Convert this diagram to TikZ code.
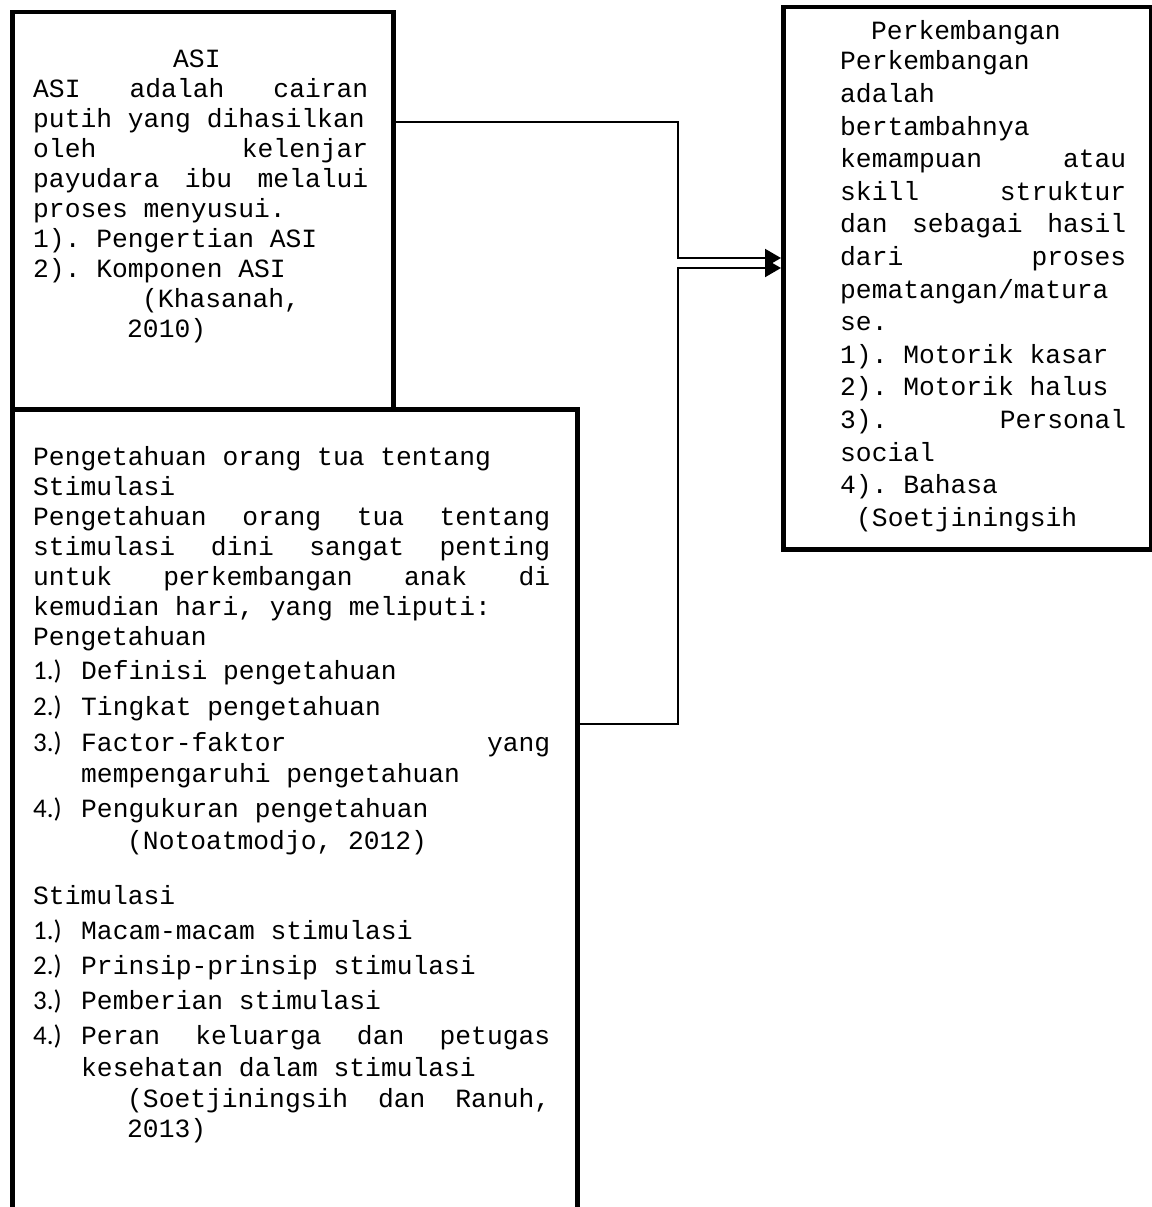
\documentclass[tikz,border=0pt]{standalone}
\usepackage{fontspec}
\newfontfamily\monof{Liberation Mono}
\newfontfamily\numf{Carlito}
\usetikzlibrary{arrows.meta,positioning}

% mono text with full-width word spaces
\newcommand{\monotext}[1]{\monof\fontsize{26.3}{#1}\selectfont\spaceskip=0.6em\xspaceskip=0.6em\relax}
% one line stretched to the full width
\newcommand{\jl}[1]{\leavevmode\hbox to\hsize{#1}}
% list number in the sans font
\newcommand{\num}[1]{\leavevmode\hbox to48pt{\numf\fontsize{27}{30}\selectfont #1\hfil}}

\begin{document}
\begin{tikzpicture}[
    x=1pt, y=-1pt,
    box/.style={draw, line width=4.5pt, minimum width=#1, anchor=north west, inner sep=0pt},
    txt/.style={anchor=base west, inner sep=0pt},
    arrow/.style={-{Triangle[length=16pt, width=18pt]}, line width=2pt},
]
    \path[use as bounding box, fill=white] (0,0) rectangle (1151,1207);

    % frames
    \node[box=381pt, minimum height=397pt] (asi) at (10,10) {};
    \node[box=565pt, minimum height=823pt] (stim) at (10,407) {};
    \node[box=368pt, minimum height=542pt] (dev) at (781,5) {};

    % texts
    \node[txt, text width=335pt] (asitext) at (33,67) {\monotext{30}%
        \jl{\hskip140pt ASI\hfil}\\
        \jl{ASI\hfill adalah\hfill cairan}\\
        putih yang dihasilkan\\
        \jl{oleh\hfill kelenjar}\\
        \jl{payudara\hfill ibu\hfill melalui}\\
        proses menyusui.\\
        1). Pengertian ASI\\
        2). Komponen ASI\\
        \hspace*{109pt}(Khasanah,\\
        \hspace*{94pt}2010)\par};

    \node[txt, text width=517pt] (stimtext) at (33,465) {\monotext{30}%
        Pengetahuan orang tua tentang\\
        Stimulasi\\
        \jl{Pengetahuan\hfill orang\hfill tua\hfill tentang}\\
        \jl{stimulasi\hfill dini\hfill sangat\hfill penting}\\
        \jl{untuk\hfill perkembangan\hfill anak\hfill di}\\
        kemudian hari, yang meliputi:\\
        Pengetahuan\\[4pt]
        \num{1.)}Definisi pengetahuan\\[6pt]
        \num{2.)}Tingkat pengetahuan\\[6pt]
        \jl{\num{3.)}Factor-faktor\hfill yang}\\[1pt]
        \hspace*{48pt}mempengaruhi pengetahuan\\[5pt]
        \num{4.)}Pengukuran pengetahuan\\[2pt]
        \hspace*{94pt}(Notoatmodjo, 2012)\\[25pt]
        Stimulasi\\[5pt]
        \num{1.)}Macam-macam stimulasi\\[5pt]
        \num{2.)}Prinsip-prinsip stimulasi\\[5pt]
        \num{3.)}Pemberian stimulasi\\[5pt]
        \jl{\num{4.)}Peran\hfill keluarga\hfill dan\hfill petugas}\\[2pt]
        \hspace*{48pt}kesehatan dalam stimulasi\\[1pt]
        \jl{\hskip94pt(Soetjiningsih\hfill dan\hfill Ranuh,}\\
        \hspace*{94pt}2013)\par};

    \node[txt, text width=286pt] (devtext) at (840,40) {\monotext{32.6}%
        \hspace*{31pt}Perkembangan\\[-2.6pt]
        Perkembangan\\
        adalah\\
        bertambahnya\\
        \jl{kemampuan\hfill atau}\\
        \jl{skill\hfill struktur}\\
        \jl{dan\hfill sebagai\hfill hasil}\\
        \jl{dari\hfill proses}\\
        pematangan/matura\\
        se.\\
        1). Motorik kasar\\
        2). Motorik halus\\
        \jl{3).\hfill Personal}\\
        social\\
        4). Bahasa\\
        \hspace*{16pt}(Soetjiningsih\par};

    % connectors
    \coordinate (j1) at (678,258);
    \coordinate (j2) at (678,268);
    \draw[arrow] ([yshift=88.5pt]asi.east) -| (j1) -- (dev.west |- j1);
    \draw[arrow] ([yshift=96.5pt]stim.east) -| (j2) -- (dev.west |- j2);
\end{tikzpicture}
\end{document}
